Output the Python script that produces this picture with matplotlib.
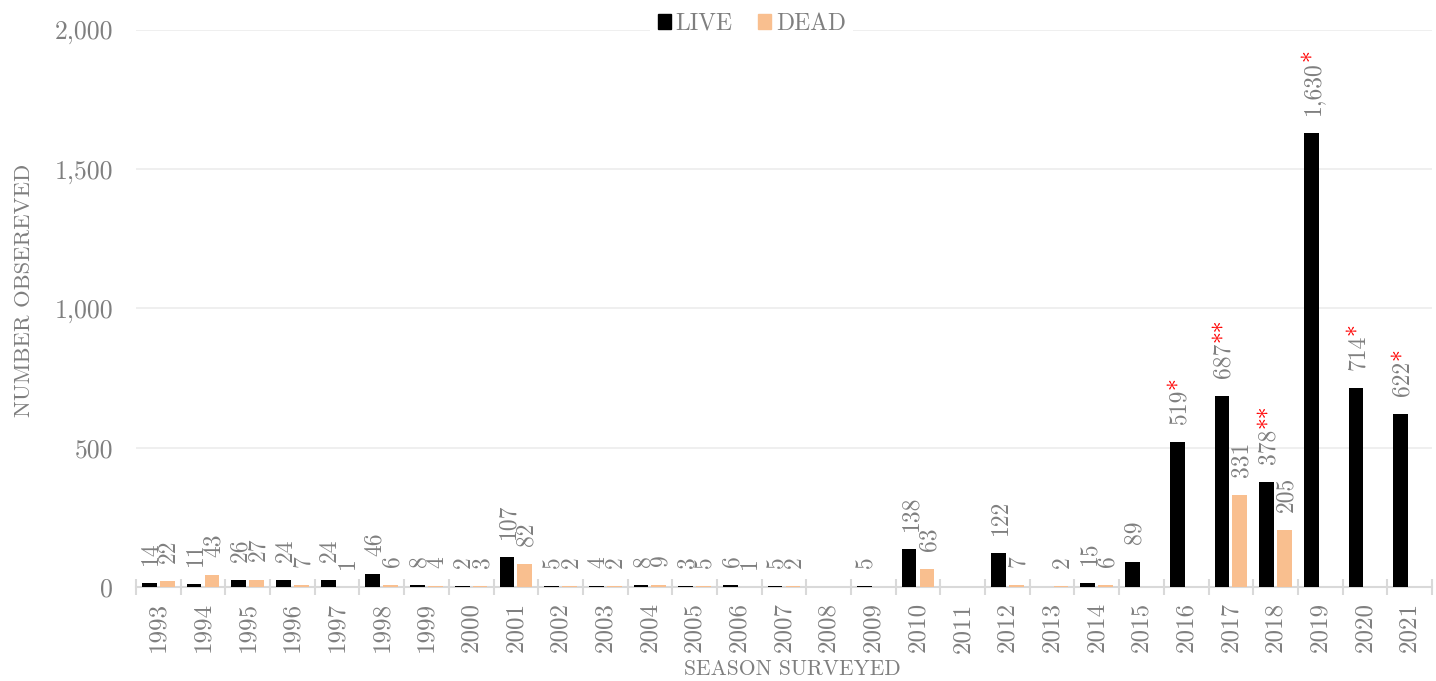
import numpy as np
import matplotlib
matplotlib.use("Agg")
import matplotlib.pyplot as plt
from matplotlib.ticker import FuncFormatter
from matplotlib.patches import Patch

plt.rcParams['font.family'] = ['cmr10', 'DejaVu Serif']
plt.rcParams['axes.formatter.use_mathtext'] = True

seasons = ['1993', '1994', '1995', '1996', '1997', '1998', '1999', '2000', '2001', '2002',
           '2003', '2004', '2005', '2006', '2007', '2008', '2009', '2010', '2011', '2012',
           '2013', '2014', '2015', '2016', '2017', '2018', '2019', '2020', '2021']
live = [14, 11, 26, 24, 24, 46, 8, 2, 107, 5, 4, 8, 3, 6, 5, 0, 5, 138, 0, 122,
        0, 15, 89, 519, 687, 378, 1630, 714, 622]
dead = [22, 43, 27, 7, 1, 6, 4, 3, 82, 2, 2, 9, 5, 1, 2, 0, 0, 63, 0, 7,
        2, 6, 0, 0, 331, 205, 0, 0, 0]
live_marks = ['', '', '', '', '', '', '', '', '', '', '', '', '', '', '', '', '', '', '', '',
              '', '', '', '*', '**', '**', '*', '*', '*']

GRAY = '#7f7f7f'
LIVE_C = '#000000'
DEAD_C = '#F9BF8F'
FS = 17

fig = plt.figure(figsize=(14.36, 6.81), dpi=100)
ax = fig.add_axes([0.0947, 0.138, 0.9025, 0.818])

x = np.arange(len(seasons))
off = 0.2
w = 0.33
ax.bar(x - off, live, w, color=LIVE_C, zorder=3)
ax.bar(x + off, dead, w, color=DEAD_C, zorder=3)

ax.set_xlim(-0.5, len(seasons) - 0.5)
ax.set_ylim(0, 2000)

# labels: baseline shifted so the digits sit centred over the bar
shift = 0.34 * FS
lift = 13
starred = []
for i in range(len(seasons)):
    if live[i] > 0:
        t = ax.annotate(f'{live[i]:,}', xy=(x[i] - off, live[i]), xytext=(shift, lift),
                        textcoords='offset points', rotation=90, rotation_mode='anchor',
                        ha='left', va='baseline', color=GRAY, fontsize=FS)
        if live_marks[i]:
            starred.append((t, i))
    if dead[i] > 0:
        ax.annotate(f'{dead[i]:,}', xy=(x[i] + off, dead[i]), xytext=(shift, lift),
                    textcoords='offset points', rotation=90, rotation_mode='anchor',
                    ha='left', va='baseline', color=GRAY, fontsize=FS)

fig.canvas.draw()
r = fig.canvas.get_renderer()
for t, i in starred:
    bb = t.get_window_extent(r)
    xd = ax.transData.transform((x[i] - off, 0))[0] + shift * 100 / 72
    px, py = ax.transData.inverted().transform((xd, bb.y1))
    ax.text(px, py, live_marks[i], rotation=90, rotation_mode='anchor', ha='left',
            va='baseline', color='red', fontsize=FS)

ax.set_yticks([0, 500, 1000, 1500, 2000])
ax.yaxis.set_major_formatter(FuncFormatter(lambda v, p: f'{int(v):,}'))
ax.set_xticks(x)
ax.set_xticklabels(seasons, rotation=90)
ax.set_xticks(np.arange(-0.5, len(seasons)), minor=True)
ax.tick_params(axis='x', which='major', length=0, pad=11, labelsize=18, labelcolor=GRAY)
ax.tick_params(axis='x', which='minor', length=12, direction='inout', color='#d9d9d9', width=1.5)
ax.tick_params(axis='y', length=0, pad=16.5, labelsize=18.5, labelcolor=GRAY)

ax.grid(axis='y', color='#ececec', linewidth=1.2, zorder=0)
for s in ['top', 'right', 'left']:
    ax.spines[s].set_visible(False)
ax.spines['bottom'].set_color('#d9d9d9')
ax.spines['bottom'].set_linewidth(1.5)

fig.text(0.0167, 0.573, 'NUMBER OBSEREVED', color=GRAY, fontsize=16.3, rotation=90,
         ha='center', va='center')
fig.text(0.5515, 0.003, 'SEASON SURVEYED', color=GRAY, fontsize=15.5, ha='center', va='bottom')

handles = [Patch(color=LIVE_C, label='LIVE'), Patch(color=DEAD_C, label='DEAD')]
leg = fig.legend(handles=handles, loc='center', bbox_to_anchor=(0.5235, 0.965), ncol=2,
                 frameon=True, fancybox=False, edgecolor='none', facecolor='white',
                 framealpha=1, handlelength=0.55, handleheight=0.55, handletextpad=0.2,
                 columnspacing=1.1, fontsize=FS, labelcolor=GRAY, borderpad=0.3)

fig.savefig('out.png', dpi=100)
